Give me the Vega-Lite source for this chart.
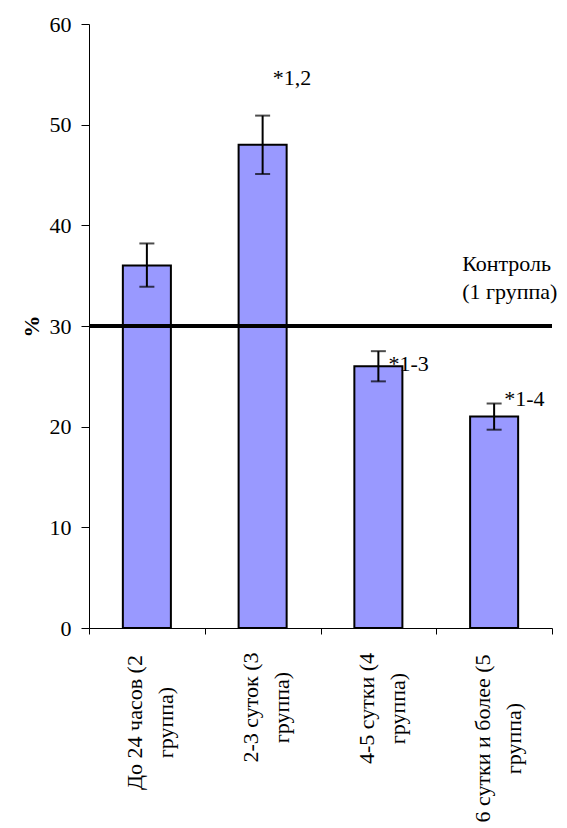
{
  "$schema": "https://vega.github.io/schema/vega-lite/v6.json",
  "width": 463,
  "height": 604,
  "autosize": {"type": "none"},
  "padding": {"left": 89, "top": 24, "right": 15, "bottom": 200},
  "background": "white",
  "config": {
    "view": {"stroke": null},
    "font": "'Liberation Serif', 'DejaVu Serif'",
    "text": {"font": "'Liberation Serif', 'DejaVu Serif'"},
    "axis": {
      "labelFont": "'Liberation Serif', 'DejaVu Serif'",
      "titleFont": "'Liberation Serif', 'DejaVu Serif'",
      "labelColor": "black",
      "titleColor": "black",
      "domainColor": "black",
      "tickColor": "black",
      "grid": false
    }
  },
  "datasets": {
    "groups": [
      {"group": "До 24 часов (2 группа)", "percent": 36, "low": 33.9, "high": 38.2},
      {"group": "2-3 суток (3 группа)", "percent": 48, "low": 45.1, "high": 50.9},
      {"group": "4-5 сутки (4 группа)", "percent": 26, "low": 24.5, "high": 27.5},
      {"group": "6 сутки и более (5 группа)", "percent": 21, "low": 19.7, "high": 22.3}
    ],
    "annotations": [
      {"group": "2-3 суток (3 группа)", "pos": 53.9, "note": "*1,2"},
      {"group": "4-5 сутки (4 группа)", "pos": 25.5, "note": "*1-3"},
      {"group": "6 сутки и более (5 группа)", "pos": 22.1, "note": "*1-4"}
    ],
    "control": [
      {"group": "6 сутки и более (5 группа)", "control": 30, "labelpos": 35.5, "label": ["Контроль", "(1 группа)"]}
    ]
  },
  "encoding": {
    "x": {
      "field": "group",
      "type": "nominal",
      "sort": null,
      "scale": {"paddingInner": 0, "paddingOuter": 0},
      "axis": {
        "title": null,
        "labelAngle": -90,
        "labelFontSize": 22,
        "labelLineHeight": 31,
        "labelAlign": "center",
        "labelBaseline": "middle",
        "labelOffset": -12,
        "tickBand": "extent",
        "tickSize": 6,
        "labelPadding": {"expr": "datum.value === 'До 24 часов (2 группа)' ? 88 : datum.value === '2-3 суток (3 группа)' ? 73 : datum.value === '4-5 сутки (4 группа)' ? 74 : 104"},
        "labelLimit": 400,
        "domainWidth": 1,
        "labelExpr": "split(replace(datum.label, ' группа)', '~группа)'), '~')"
      }
    }
  },
  "layer": [
    {
      "data": {"name": "groups"},
      "mark": {"type": "bar", "color": "#9999FF", "stroke": "black", "strokeWidth": 2, "width": {"band": 0.415}},
      "encoding": {
        "y": {
          "field": "percent",
          "type": "quantitative",
          "scale": {"domain": [0, 60], "nice": false},
          "axis": {
            "title": "%",
            "titleFontSize": 22,
            "titleFontWeight": "bold",
            "titlePadding": 6,
            "values": [0, 10, 20, 30, 40, 50, 60],
            "labelFontSize": 22,
            "tickSize": 8,
            "labelPadding": 10
          }
        }
      }
    },
    {
      "data": {"name": "groups"},
      "mark": {"type": "rule", "color": "black", "strokeWidth": 2},
      "encoding": {
        "y": {"field": "low", "type": "quantitative"},
        "y2": {"field": "high"}
      }
    },
    {
      "data": {"name": "groups"},
      "mark": {"type": "tick", "color": "black", "size": 15, "thickness": 2},
      "encoding": {"y": {"field": "low", "type": "quantitative"}}
    },
    {
      "data": {"name": "groups"},
      "mark": {"type": "tick", "color": "black", "size": 15, "thickness": 2},
      "encoding": {"y": {"field": "high", "type": "quantitative"}}
    },
    {
      "data": {"name": "control"},
      "mark": {"type": "rule", "color": "black", "strokeWidth": 4},
      "encoding": {
        "x": null,
        "y": {"field": "control", "type": "quantitative"}
      }
    },
    {
      "data": {"name": "control"},
      "mark": {"type": "text", "align": "left", "baseline": "alphabetic", "dx": -32, "fontSize": 22, "lineHeight": 28, "color": "black"},
      "encoding": {
        "y": {"field": "labelpos", "type": "quantitative"},
        "text": {"field": "label"}
      }
    },
    {
      "data": {"name": "annotations"},
      "mark": {"type": "text", "align": "left", "baseline": "alphabetic", "dx": 10, "fontSize": 22, "color": "black"},
      "encoding": {
        "y": {"field": "pos", "type": "quantitative"},
        "text": {"field": "note"}
      }
    }
  ]
}
